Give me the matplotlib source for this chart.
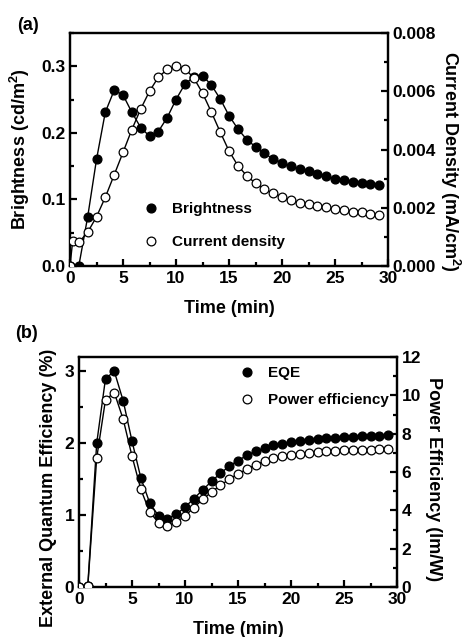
import matplotlib
matplotlib.use('Agg')
import matplotlib.pyplot as plt
from matplotlib.lines import Line2D
from matplotlib.ticker import MultipleLocator, FormatStrFormatter

plt.rcParams['font.family'] = 'Liberation Sans'
plt.rcParams['font.weight'] = 'bold'
plt.rcParams['axes.labelweight'] = 'bold'
plt.rcParams['mathtext.default'] = 'regular'

# Tiempo (min), una medida cada 50 s
t = [0, 0.83, 1.67, 2.5, 3.33, 4.17, 5, 5.83, 6.67, 7.5, 8.33, 9.17, 10, 10.83,
     11.67, 12.5, 13.33, 14.17, 15, 15.83, 16.67, 17.5, 18.33, 19.17, 20, 20.83,
     21.67, 22.5, 23.33, 24.17, 25, 25.83, 26.67, 27.5, 28.33, 29.17]

# Panel (a)
brightness = [0.0, 0.0, 0.074, 0.16, 0.231, 0.264, 0.257, 0.231, 0.208, 0.195,
              0.202, 0.223, 0.25, 0.273, 0.284, 0.286, 0.272, 0.251, 0.226, 0.206,
              0.19, 0.179, 0.169, 0.161, 0.155, 0.15, 0.146, 0.142, 0.138, 0.135,
              0.131, 0.129, 0.126, 0.125, 0.123, 0.121]
t_cd = [0, 0.25] + t[1:]
current_density = [0.0, 0.00085, 0.00081, 0.00116, 0.00169, 0.00236, 0.00313,
                   0.0039, 0.00468, 0.00539, 0.006, 0.00648, 0.00675, 0.00686,
                   0.00678, 0.00646, 0.00594, 0.00529, 0.0046, 0.00395, 0.00345,
                   0.0031, 0.00284, 0.00264, 0.00249, 0.00238, 0.00226, 0.00218,
                   0.00213, 0.00207, 0.00201, 0.00195, 0.00192, 0.00187, 0.00184,
                   0.0018, 0.00175]

# Panel (b)
eqe = [0, 0.02, 2.0, 2.9, 3.0, 2.59, 2.03, 1.52, 1.17, 0.99, 0.95, 1.01, 1.11,
       1.23, 1.35, 1.47, 1.58, 1.68, 1.76, 1.83, 1.89, 1.93, 1.97, 1.99, 2.02,
       2.03, 2.05, 2.06, 2.07, 2.08, 2.09, 2.09, 2.1, 2.1, 2.1, 2.11]
power_eff = [0, 0.03, 6.73, 9.77, 10.14, 8.75, 6.83, 5.1, 3.91, 3.36, 3.18, 3.39,
             3.7, 4.14, 4.57, 4.96, 5.3, 5.62, 5.91, 6.14, 6.38, 6.57, 6.75, 6.83,
             6.9, 6.96, 7.0, 7.04, 7.08, 7.11, 7.13, 7.15, 7.17, 7.17, 7.18, 7.18]

W, H = 462, 637
fig = plt.figure(figsize=(W / 100, H / 100), dpi=100)

def caja(l, r, top, bot):
    return [l / W, 1 - bot / H, (r - l) / W, (bot - top) / H]

def estilo(ax, right=False):
    for s in ax.spines.values():
        s.set_linewidth(1.6)
    ax.tick_params(which='both', direction='in', labelsize=12.5, width=1.6,
                   top=False, right=False, left=not right)
    ax.tick_params(which='major', length=5)
    ax.tick_params(which='minor', length=3)
    if right:
        ax.tick_params(which='both', right=True, left=False, labelright=True,
                       labelleft=False)

ms = 6.3
filled = dict(marker='o', ms=ms, mfc='black', mec='black', color='black', lw=1)
hollow = dict(marker='o', ms=ms, mfc='white', mec='black', mew=0.9, color='black', lw=1)

# ---------- (a) ----------
ax1 = fig.add_axes(caja(70, 388, 33, 266))
ax1b = ax1.twinx()
ax1.plot(t, brightness, **filled, zorder=3)
ax1b.plot(t_cd, current_density, **hollow, zorder=3)
ax1.set_xlim(0, 30)
ax1.set_ylim(0, 0.35)
ax1b.set_ylim(0, 0.008)
ax1.xaxis.set_major_locator(MultipleLocator(5))
ax1.xaxis.set_minor_locator(MultipleLocator(2.5))
ax1.yaxis.set_major_locator(MultipleLocator(0.1))
ax1.yaxis.set_minor_locator(MultipleLocator(0.05))
ax1.yaxis.set_major_formatter(FormatStrFormatter('%.1f'))
ax1b.yaxis.set_major_locator(MultipleLocator(0.002))
ax1b.yaxis.set_minor_locator(MultipleLocator(0.001))
ax1b.yaxis.set_major_formatter(FormatStrFormatter('%.3f'))
estilo(ax1)
estilo(ax1b, right=True)
ax1.set_xlabel('Time (min)', fontsize=13)
ax1.xaxis.set_label_coords(0.5, -0.146)
ax1.set_ylabel('Brightness (cd/m$^2$)', fontsize=13)
ax1.yaxis.set_label_coords(-0.119, 0.5)
ax1b.set_ylabel('Current Density (mA/cm$^2$)', fontsize=13, rotation=270,
                va='center', ha='center')
ax1b.yaxis.set_label_coords(1.195, 0.45)

h1 = [Line2D([], [], ls='none', marker='o', ms=ms, mfc='black', mec='black'),
      Line2D([], [], ls='none', marker='o', ms=ms, mfc='white', mec='black', mew=0.9)]
ax1b.legend(h1, ['Brightness', 'Current density'], loc='upper left',
            bbox_to_anchor=(0.231, 0.275), frameon=False, fontsize=11,
            handlelength=1, handletextpad=0.9, labelspacing=1.25,
            borderpad=0, borderaxespad=0)

# ---------- (b) ----------
ax2 = fig.add_axes(caja(79, 397, 357, 587))
ax2b = ax2.twinx()
ax2.plot(t, eqe, **filled, zorder=3)
ax2b.plot(t, power_eff, **hollow, zorder=3)
ax2.set_xlim(0, 30)
ax2.set_ylim(0, 3.2)
ax2b.set_ylim(0, 12)
ax2.xaxis.set_major_locator(MultipleLocator(5))
ax2.xaxis.set_minor_locator(MultipleLocator(2.5))
ax2.yaxis.set_major_locator(MultipleLocator(1))
ax2.yaxis.set_minor_locator(MultipleLocator(0.5))
ax2b.yaxis.set_major_locator(MultipleLocator(2))
ax2b.yaxis.set_minor_locator(MultipleLocator(1))
estilo(ax2)
estilo(ax2b, right=True)
ax2.set_xlabel('Time (min)', fontsize=13)
ax2.xaxis.set_label_coords(0.5, -0.148)
ax2.set_ylabel('External Quantum Efficiency (%)', fontsize=13)
ax2.yaxis.set_label_coords(-0.069, 0.43)
ax2b.set_ylabel('Power Efficiency (lm/W)', fontsize=13, rotation=270,
                va='center', ha='center')
ax2b.yaxis.set_label_coords(1.115, 0.47)

h2 = [Line2D([], [], ls='none', marker='o', ms=ms, mfc='black', mec='black'),
      Line2D([], [], ls='none', marker='o', ms=ms, mfc='white', mec='black', mew=0.9)]
ax2b.legend(h2, ['EQE', 'Power efficiency'], loc='upper left',
            bbox_to_anchor=(0.504, 0.96), frameon=False, fontsize=11,
            handlelength=1, handletextpad=0.9, labelspacing=0.85,
            borderpad=0, borderaxespad=0)

fig.text(17 / W, 1 - 25 / H, '(a)', fontsize=13, fontweight='bold', va='center')
fig.text(15 / W, 1 - 333 / H, '(b)', fontsize=13, fontweight='bold', va='center')

fig.savefig('out.png', dpi=100)
